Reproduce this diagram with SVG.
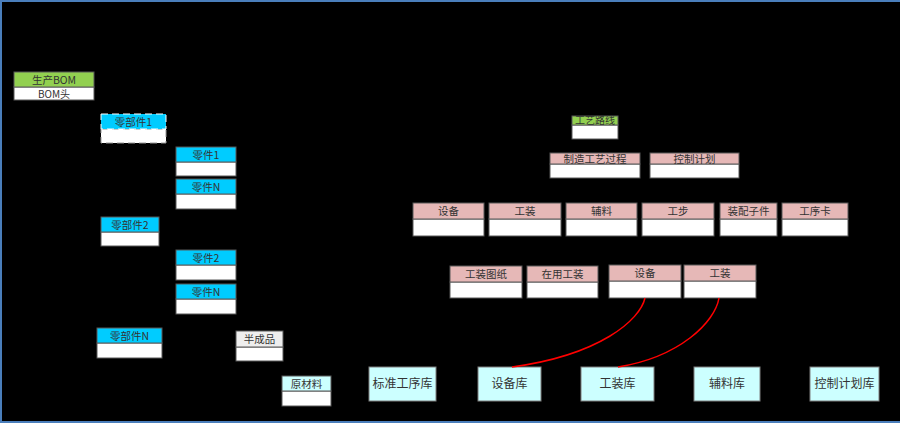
<svg xmlns="http://www.w3.org/2000/svg" width="900" height="423" viewBox="0 0 900 423">
<defs>
<style>
.hd{stroke:#595959;stroke-width:1}
.bd{fill:#ffffff;stroke:#595959;stroke-width:1}
.cy{fill:#00ccff}
.pk{fill:#e6b8b7}
.gr{fill:#92d050}
.lc{fill:#ccffff}
.gy{fill:#eeeeee}
.t{font-family:"Noto Sans CJK SC","Liberation Serif",serif;font-size:10.5px;fill:#333333;text-anchor:middle}
.tb{font-family:"Noto Sans CJK SC","Liberation Serif",serif;font-size:12px;fill:#333333;text-anchor:middle}
.lib{fill:#ccffff;stroke:#7f7f7f;stroke-width:1}
.cn{fill:none;stroke:#ff0000;stroke-width:1.5}
.frame{stroke:#4a7ebb;stroke-width:2}
</style>
</defs>
<rect x="0" y="0" width="900" height="423" fill="#000000"/>
<line class="frame" x1="0" y1="1" x2="900" y2="1"/>
<line class="frame" x1="1" y1="0" x2="1" y2="423"/>
<line class="frame" x1="0" y1="422" x2="900" y2="422"/>

<g id="bom">
<rect class="bd" x="14" y="87" width="80" height="13"/>
<rect class="hd gr" x="14" y="72" width="80" height="15"/>
<text class="t" x="54" y="83.5">生产BOM</text>
<text class="t" x="54" y="97.5" style="font-size:10px">BOM头</text>
</g>
<g id="part1">
<rect x="101" y="129" width="65" height="14" fill="#ffffff" stroke="#999999" stroke-dasharray="7,4"/>
<rect x="101" y="114" width="65" height="15" fill="#00ccff" stroke="#ffffff" stroke-dasharray="7,4"/>
<text class="t" x="133.5" y="125.5">零部件1</text>
</g>
<g id="comp1">
<rect class="bd" x="176" y="162" width="60" height="14"/>
<rect class="hd cy" x="176" y="147" width="60" height="15"/>
<text class="t" x="206" y="158.5">零件1</text>
</g>
<g id="compN1">
<rect class="bd" x="176" y="194" width="60" height="15"/>
<rect class="hd cy" x="176" y="179" width="60" height="15"/>
<text class="t" x="206" y="190.5">零件N</text>
</g>
<g id="part2">
<rect class="bd" x="101" y="232" width="58" height="14"/>
<rect class="hd cy" x="101" y="217" width="58" height="15"/>
<text class="t" x="130" y="228.5">零部件2</text>
</g>
<g id="comp2">
<rect class="bd" x="176" y="265" width="60" height="15"/>
<rect class="hd cy" x="176" y="250" width="60" height="15"/>
<text class="t" x="206" y="261.5">零件2</text>
</g>
<g id="compN2">
<rect class="bd" x="176" y="299" width="60" height="15"/>
<rect class="hd cy" x="176" y="284" width="60" height="15"/>
<text class="t" x="206" y="295.5">零件N</text>
</g>
<g id="partN">
<rect class="bd" x="97" y="343" width="65" height="15"/>
<rect class="hd cy" x="97" y="328" width="65" height="15"/>
<text class="t" x="129.5" y="339.5">零部件N</text>
</g>
<g id="semi">
<rect class="bd" x="236" y="347" width="47" height="14"/>
<rect class="hd gy" x="236" y="331" width="47" height="16"/>
<text class="t" x="259.5" y="343">半成品</text>
</g>
<g id="raw">
<rect class="bd" x="282" y="391" width="49" height="15"/>
<rect class="hd lc" x="282" y="376" width="49" height="15"/>
<text class="t" x="306.5" y="387.5">原材料</text>
</g>

<g id="route">
<rect class="bd" x="572" y="125" width="46" height="14"/>
<rect class="hd gr" x="572" y="116" width="46" height="9"/>
<text class="t" x="595" y="124" style="font-size:10px">工艺路线</text>
</g>
<g id="mfg">
<rect class="bd" x="550" y="164" width="90" height="14"/>
<rect class="hd pk" x="550" y="153" width="90" height="11"/>
<text class="t" x="595" y="162.5">制造工艺过程</text>
</g>
<g id="ctrl">
<rect class="bd" x="650" y="164" width="89" height="14"/>
<rect class="hd pk" x="650" y="153" width="89" height="11"/>
<text class="t" x="694.5" y="162.5">控制计划</text>
</g>

<g id="equip">
<rect class="bd" x="413" y="219" width="71" height="17"/>
<rect class="hd pk" x="413" y="203" width="71" height="16"/>
<text class="t" x="448.5" y="215">设备</text>
</g>
<g id="tooling">
<rect class="bd" x="489" y="219" width="72" height="17"/>
<rect class="hd pk" x="489" y="203" width="72" height="16"/>
<text class="t" x="525" y="215">工装</text>
</g>
<g id="aux">
<rect class="bd" x="566" y="219" width="71" height="17"/>
<rect class="hd pk" x="566" y="203" width="71" height="16"/>
<text class="t" x="601.5" y="215">辅料</text>
</g>
<g id="step">
<rect class="bd" x="642" y="219" width="72" height="17"/>
<rect class="hd pk" x="642" y="203" width="72" height="16"/>
<text class="t" x="678" y="215">工步</text>
</g>
<g id="assy">
<rect class="bd" x="720" y="219" width="57" height="17"/>
<rect class="hd pk" x="720" y="203" width="57" height="16"/>
<text class="t" x="748.5" y="215">装配子件</text>
</g>
<g id="card">
<rect class="bd" x="782" y="219" width="66" height="17"/>
<rect class="hd pk" x="782" y="203" width="66" height="16"/>
<text class="t" x="815" y="215">工序卡</text>
</g>

<g id="drawing">
<rect class="bd" x="450" y="282" width="72" height="16"/>
<rect class="hd pk" x="450" y="266" width="72" height="16"/>
<text class="t" x="486" y="278">工装图纸</text>
</g>
<g id="inuse">
<rect class="bd" x="527" y="282" width="71" height="16"/>
<rect class="hd pk" x="527" y="266" width="71" height="16"/>
<text class="t" x="562.5" y="278">在用工装</text>
</g>
<g id="equip2">
<rect class="bd" x="609" y="281" width="72" height="17"/>
<rect class="hd pk" x="609" y="265" width="72" height="16"/>
<text class="t" x="645" y="277">设备</text>
</g>
<g id="tooling2">
<rect class="bd" x="684" y="281" width="72" height="17"/>
<rect class="hd pk" x="684" y="265" width="72" height="16"/>
<text class="t" x="720" y="277">工装</text>
</g>

<g id="libStd">
<rect class="lib" x="369" y="367" width="67" height="34"/>
<text class="tb" x="402.5" y="388">标准工序库</text>
</g>
<g id="libEquip">
<rect class="lib" x="478" y="367" width="63" height="34"/>
<text class="tb" x="509.5" y="388">设备库</text>
</g>
<g id="libTool">
<rect class="lib" x="581" y="367" width="73" height="34"/>
<text class="tb" x="617.5" y="388">工装库</text>
</g>
<g id="libAux">
<rect class="lib" x="694" y="367" width="66" height="34"/>
<text class="tb" x="727" y="388">辅料库</text>
</g>
<g id="libCtrl">
<rect class="lib" x="810" y="367" width="69" height="34"/>
<text class="tb" x="844.5" y="388">控制计划库</text>
</g>

<g id="connectors">
<path class="cn" d="M645,298 C640,320 600,355 512,367"/>
<path class="cn" d="M719,298 C715,322 680,357 618,367"/>
</g>
</svg>
